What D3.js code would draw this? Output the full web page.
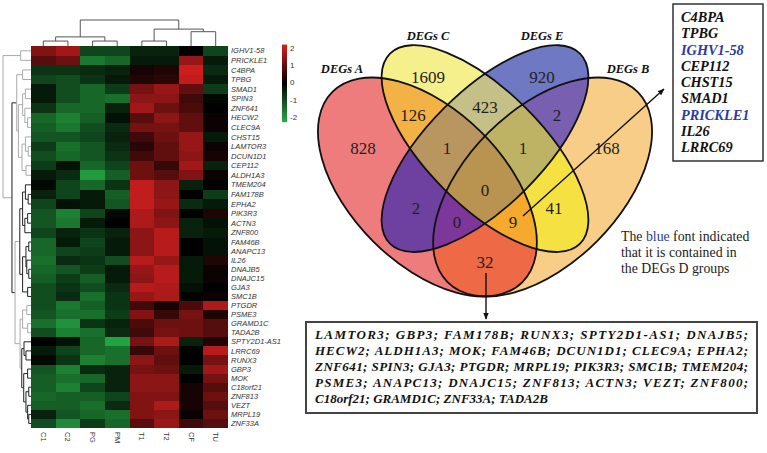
<!DOCTYPE html>
<html lang="en">
<head>
<meta charset="utf-8">
<title>DEGs heatmap and Venn</title>
<script src="https://d3js.org/d3.v7.min.js"></script>
<style>
  body { margin: 0; background: #fff; }
</style>
</head>
<body>
<script>
var width = 767, height = 453;

// ---- heatmap data ----
var colLabels = ["C1", "C2", "PG", "PM", "T1", "T2", "CF", "TU"];
var rowLabels = ["IGHV1-58", "PRICKLE1", "C4BPA", "TPBG", "SMAD1", "SPIN3", "ZNF641", "HECW2",
  "CLEC9A", "CHST15", "LAMTOR3", "DCUN1D1", "CEP112", "ALDH1A3", "TMEM204", "FAM178B", "EPHA2",
  "PIK3R3", "ACTN3", "ZNF800", "FAM46B", "ANAPC13", "IL26", "DNAJB5", "DNAJC15", "GJA3", "SMC1B",
  "PTGDR", "PSME3", "GRAMD1C", "TADA2B", "SPTY2D1-AS1", "LRRC69", "RUNX3", "GBP3", "MOK",
  "C18orf21", "ZNF813", "VEZT", "MRPL19", "ZNF33A"];
var heatValues = [
  [1.2, 1.5, -0.8, -0.8, -0.4, -0.4, 0.0, -0.8],
  [0.8, 1.0, -1.4, -1.2, -0.3, -0.3, 1.4, -0.3],
  [-0.6, -0.6, -0.5, -0.4, 0.2, 0.3, 1.9, -0.5],
  [-0.8, -0.9, -0.6, -0.3, 0.3, 0.4, 1.8, -0.3],
  [-0.3, -0.9, -1.2, -0.7, 1.1, 1.4, 0.9, -0.7],
  [-0.3, -0.9, -1.2, -1.3, 1.3, 1.3, 0.6, -0.1],
  [-0.6, -1.2, -1.2, -0.4, 1.5, 1.0, 0.7, 0.0],
  [-1.2, -1.5, -1.1, -0.2, 0.8, 1.3, 0.9, 0.1],
  [-1.1, -1.4, -0.9, -0.5, 1.1, 1.1, 0.9, 0.1],
  [-1.0, -1.0, -0.8, -0.4, 0.6, 1.0, 1.4, -0.3],
  [-0.7, -1.3, -1.0, -0.5, 0.4, 0.9, 1.4, 0.1],
  [-0.9, -1.2, -1.0, -0.6, 0.6, 0.9, 1.3, 0.2],
  [-0.7, -0.2, -1.2, -0.8, 1.0, 0.5, 1.5, -0.4],
  [-0.3, -0.5, -1.8, -1.1, 1.0, 0.8, 1.2, 0.1],
  [-0.1, -0.8, -1.2, -0.6, 1.8, 1.3, -0.4, 0.0],
  [-0.4, -0.8, -0.3, -1.1, 1.8, 1.3, 0.0, -0.7],
  [-0.8, -0.2, -0.3, -1.0, 1.8, 1.4, -0.5, -0.3],
  [-1.0, -1.5, -0.8, -0.1, 1.6, 1.2, 0.0, 0.3],
  [-1.0, -1.4, -0.3, 0.0, 1.6, 1.3, -0.4, -0.2],
  [-0.8, -0.4, -0.6, -0.4, 1.3, 1.7, -0.4, -0.3],
  [-1.2, -0.3, -0.8, -0.3, 1.3, 1.7, 0.0, -0.2],
  [-1.2, -0.8, -0.7, -0.3, 1.3, 1.7, 0.0, -0.2],
  [-1.3, -0.5, -0.6, -0.9, 1.7, 1.4, -0.3, 0.3],
  [-1.2, -1.0, -0.7, -0.3, 1.4, 1.7, -0.3, 0.1],
  [-1.1, -0.7, -1.1, -0.3, 1.3, 1.7, -0.3, 0.1],
  [-0.9, -0.6, -0.9, -0.5, 1.7, 1.6, -0.2, 0.0],
  [-0.9, -0.5, -1.3, -0.6, 1.4, 1.6, 0.0, 0.1],
  [-0.9, -1.4, -1.1, -0.6, 0.6, 0.2, 0.7, 1.6],
  [-1.0, -1.3, -1.3, -0.7, 1.2, 0.5, 1.1, 0.3],
  [-1.3, -1.7, -0.6, -0.4, 0.7, 1.0, 1.0, 0.8],
  [-0.9, -1.5, -1.3, -0.5, 0.6, 1.1, 1.0, 0.8],
  [0.0, -0.2, -1.2, -1.9, 1.1, 1.6, -0.4, 0.3],
  [-0.3, -0.8, -1.2, -1.3, 0.5, 1.0, 0.0, 1.7],
  [-0.1, -0.6, -1.5, -1.3, 1.3, 0.9, 0.0, 1.1],
  [-1.0, -1.5, -0.5, -0.4, 1.1, 1.0, -0.3, 1.5],
  [-1.1, -1.3, -1.2, -0.4, 1.3, 1.3, 0.0, 1.1],
  [-1.1, -1.5, -0.8, -0.4, 1.3, 1.3, 0.2, 0.8],
  [-1.2, -1.1, -1.1, -0.8, 1.2, 1.2, 0.2, 1.0],
  [-1.1, -1.1, -1.3, -0.5, 1.2, 1.6, 0.2, 0.8],
  [-0.4, -1.0, -1.2, -1.3, 1.2, 1.3, 0.1, 1.0],
  [-0.9, -1.6, -0.7, -1.2, 0.8, 1.4, 0.6, 0.8]
];
var legendTicks = [2, 1, 0, -1, -2];

// dendrograms: [height, child, child], leaves are indices
var colTree = [1.0, [0.35, [0.19, 0, 1], [0.19, 2, 3]], [0.65, [0.19, 4, 5], [0.55, 6, 7]]];
var rowTree = [1.0,
  [0.37, 0, 1],
  [0.68,
    [0.51, [0.3, 2, 3],
      [0.45, [0.3, [0.2, 4, 5], [0.22, 6, [0.12, 7, 8]]],
             [0.32, [0.2, 9, [0.1, 10, 11]], [0.18, 12, 13]]]],
    [0.57,
      [0.4, [0.3, [0.2, 14, [0.1, 15, 16]], [0.22, [0.12, 17, 18], 19]],
            [0.3, [0.18, [0.08, 20, 21], [0.15, 22, [0.08, 23, 24]]], [0.12, 25, 26]]],
      [0.39, [0.3, [0.15, 27, 28], [0.12, 29, 30]],
             [0.33, [0.25, 31, [0.18, 32, 33]],
                    [0.26, [0.12, 34, 35], [0.18, [0.08, 36, 37], [0.12, 38, [0.08, 39, 40]]]]]]]]];

// ---- venn data ----
var setKeys = ["A", "C", "E", "B"];
var setNames = ["DEGs A", "DEGs C", "DEGs E", "DEGs B"];
var regionCodes = ["A", "C", "E", "B", "AC", "CE", "EB", "ACE", "CEB", "ACEB", "AE", "AEB", "ACB", "CB", "AB"];
var regionCounts = [828, 1609, 920, 168, 126, 423, 2, 1, 1, 0, 2, 0, 9, 41, 32];
var boxGenes = ["C4BPA", "TPBG", "IGHV1-58", "CEP112", "CHST15", "SMAD1", "PRICKLE1", "IL26", "LRRC69"];
var genesInD = ["IGHV1-58", "PRICKLE1"];
var listLines = [
  "LAMTOR3; GBP3; FAM178B; RUNX3; SPTY2D1-AS1; DNAJB5;",
  "HECW2; ALDH1A3; MOK; FAM46B; DCUN1D1; CLEC9A; EPHA2;",
  "ZNF641; SPIN3; GJA3; PTGDR; MRPL19; PIK3R3; SMC1B; TMEM204;",
  "PSME3; ANAPC13; DNAJC15; ZNF813; ACTN3; VEZT; ZNF800;",
  "C18orf21; GRAMD1C; ZNF33A; TADA2B"
];

// ---- layout / style ----
var hm = {left: 31, right: 228, top: 46, mid: 237.5, bottom: 428};
var sans = "'Liberation Sans', Arial, sans-serif";
var serif = "'Liberation Serif', 'Times New Roman', serif";
var blue = "#2b3a9f";

var svg = d3.select("body").append("svg")
  .attr("width", width).attr("height", height);

var x = d3.scaleBand().domain(d3.range(colLabels.length)).range([hm.left, hm.right]);
// rows in the source image are a little taller in the upper half
var yEdge = d3.scaleLinear().domain([0, 20, rowLabels.length]).range([hm.top, hm.mid, hm.bottom]);
function rowMid(i) { return (yEdge(i) + yEdge(i + 1)) / 2; }
var color = d3.scaleLinear().domain([-2, 0, 2])
  .range(["#26ac45", "#000000", "#d82020"]).clamp(true);

// cells
var cells = [];
heatValues.forEach(function(row, i) {
  row.forEach(function(v, j) { cells.push({r: i, c: j, v: v}); });
});
svg.append("g").selectAll("rect")
  .data(cells)
  .enter().append("rect")
  .attr("x", function(d) { return x(d.c); })
  .attr("y", function(d) { return yEdge(d.r); })
  .attr("width", x.bandwidth() + 0.3)
  .attr("height", function(d) { return yEdge(d.r + 1) - yEdge(d.r) + 0.3; })
  .attr("fill", function(d) { return color(d.v); })
  .attr("shape-rendering", "crispEdges");

// row labels
svg.append("g").selectAll("text")
  .data(rowLabels)
  .enter().append("text")
  .attr("x", hm.right + 3)
  .attr("y", function(d, i) { return rowMid(i); })
  .attr("dy", "0.35em")
  .attr("font-family", sans).attr("font-style", "italic")
  .attr("font-size", "7.5px").attr("fill", "#333")
  .text(function(d) { return d; });

// column labels
svg.append("g").selectAll("text")
  .data(colLabels)
  .enter().append("text")
  .attr("transform", function(d, i) {
    return "translate(" + (x(i) + x.bandwidth() / 2 - 2.5) + "," + (hm.bottom + 4) + ") rotate(90)";
  })
  .attr("font-family", sans).attr("font-size", "7.5px").attr("fill", "#333")
  .text(function(d) { return d; });

// dendrograms
function drawTree(tree, leafPos, hScale, vertical, strokeFn) {
  var root = d3.hierarchy(tree, function(d) { return Array.isArray(d) ? d.slice(1) : null; });
  root.eachAfter(function(n) {
    if (!n.children) { n.h = 0; n.p = leafPos(n.data); n.lo = n.hi = n.data; }
    else {
      n.h = n.data[0];
      n.p = (n.children[0].p + n.children[1].p) / 2;
      n.lo = n.children[0].lo; n.hi = n.children[1].hi;
    }
  });
  var segs = [];
  root.each(function(n) {
    if (!n.children) return;
    var s = strokeFn(n);
    var hp = hScale(n.h);
    segs.push({a: [hp, n.children[0].p], b: [hp, n.children[1].p], s: s});
    n.children.forEach(function(c) {
      segs.push({a: [hp, c.p], b: [hScale(c.h), c.p], s: s});
    });
  });
  svg.append("g").selectAll("line")
    .data(segs)
    .enter().append("line")
    .attr(vertical ? "y1" : "x1", function(d) { return d.a[0]; })
    .attr(vertical ? "x1" : "y1", function(d) { return d.a[1]; })
    .attr(vertical ? "y2" : "x2", function(d) { return d.b[0]; })
    .attr(vertical ? "x2" : "y2", function(d) { return d.b[1]; })
    .attr("stroke", function(d) { return d.s; })
    .attr("stroke-width", 1);
}
drawTree(colTree, function(i) { return x(i) + x.bandwidth() / 2; },
  d3.scaleLinear().domain([0, 1]).range([hm.top, 20]), true,
  function() { return "#555"; });
drawTree(rowTree, rowMid,
  d3.scaleLinear().domain([0, 1]).range([hm.left, 3]), false,
  function(n) {
    var dark = (n.lo === 2 && n.hi === 40) || (n.lo >= 14 && n.hi <= 26) || n.lo >= 31;
    return dark ? "#222" : "#aaa";
  });

// colour key
var ly = d3.scaleLinear().domain([2, -2]).range([48, 117]);
var grad = svg.append("defs").append("linearGradient")
  .attr("id", "keygrad").attr("x1", 0).attr("x2", 0).attr("y1", 0).attr("y2", 1);
[2.2, 0, -2.3].forEach(function(v, i) {
  grad.append("stop").attr("offset", i / 2).attr("stop-color", color(v));
});
svg.append("rect").attr("x", 282).attr("y", ly(2.2)).attr("width", 5)
  .attr("height", ly(-2.3) - ly(2.2)).attr("fill", "url(#keygrad)");
svg.append("g").selectAll("text")
  .data(legendTicks)
  .enter().append("text")
  .attr("x", 290).attr("y", function(d) { return ly(d); }).attr("dy", "0.35em")
  .attr("font-family", sans).attr("font-size", "8px").attr("fill", "#333")
  .text(function(d) { return d; });

// ---- venn ----
var vcx = 485, vcy = 187, vs = 384;
var ellipses = {
  A: {cx: vcx - 0.15 * vs, cy: vcy, rx: 0.35 * vs, ry: 0.20 * vs, rot: 45},
  C: {cx: vcx, cy: vcy - 0.1 * vs, rx: 0.35 * vs, ry: 0.15 * vs, rot: 45},
  E: {cx: vcx, cy: vcy - 0.1 * vs, rx: 0.35 * vs, ry: 0.15 * vs, rot: -45},
  B: {cx: vcx + 0.15 * vs, cy: vcy, rx: 0.35 * vs, ry: 0.20 * vs, rot: -45}
};
var regionColors = {
  A: "#ee7c7c", C: "#f5f08c", E: "#6e78c3", B: "#f8cd87",
  AC: "#f3b246", CE: "#c4c087", EB: "#785faf", ACE: "#b9965f", CEB: "#beb264",
  ACEB: "#b99450", AE: "#6e41a0", AEB: "#7d379b", ACB: "#f5aa2d", CB: "#f5e141", AB: "#ee6946"
};
var regionXY = {
  A: [363, 148], C: [428, 77], E: [542, 77], B: [607, 148], AC: [413, 115], CE: [485, 107],
  EB: [557, 115], ACE: [447, 148], CEB: [523, 148], ACEB: [485, 190], AE: [416, 208],
  AEB: [457, 222], ACB: [513, 222], CB: [554, 208], AB: [485, 262]
};
var setXY = [[342, 69], [428, 36], [542, 36], [628, 69]];

function placeEllipse(sel, e) {
  return sel.attr("cx", 0).attr("cy", 0).attr("rx", e.rx).attr("ry", e.ry)
    .attr("transform", "translate(" + e.cx + "," + e.cy + ") rotate(" + e.rot + ")");
}

var defs = svg.append("defs");
setKeys.forEach(function(k) {
  placeEllipse(defs.append("clipPath").attr("id", "clip" + k).append("ellipse"), ellipses[k]);
});
var venn = svg.append("g");
regionCodes.forEach(function(code) {
  var inc = code.split("");
  var exc = setKeys.filter(function(k) { return inc.indexOf(k) < 0; });
  var mask = defs.append("mask").attr("id", "mask" + code)
    .attr("maskUnits", "userSpaceOnUse")
    .attr("x", 0).attr("y", 0).attr("width", width).attr("height", height);
  mask.append("rect").attr("width", width).attr("height", height).attr("fill", "#fff");
  exc.forEach(function(k) {
    placeEllipse(mask.append("ellipse"), ellipses[k]).attr("fill", "#000");
  });
  var g = venn;
  inc.forEach(function(k) { g = g.append("g").attr("clip-path", "url(#clip" + k + ")"); });
  g.append("rect").attr("x", 300).attr("y", 20).attr("width", 370).attr("height", 300)
    .attr("fill", regionColors[code]).attr("mask", "url(#mask" + code + ")");
});
setKeys.forEach(function(k) {
  placeEllipse(venn.append("ellipse"), ellipses[k])
    .attr("fill", "none").attr("stroke", "#111").attr("stroke-width", 1.8);
});

venn.append("g").selectAll("text")
  .data(regionCodes)
  .enter().append("text")
  .attr("x", function(d) { return regionXY[d][0]; })
  .attr("y", function(d) { return regionXY[d][1]; })
  .attr("dy", "0.35em").attr("text-anchor", "middle")
  .attr("font-family", serif).attr("font-size", "17px").attr("fill", "#231f20")
  .text(function(d, i) { return regionCounts[i]; });

venn.append("g").selectAll("text")
  .data(setNames)
  .enter().append("text")
  .attr("x", function(d, i) { return setXY[i][0]; })
  .attr("y", function(d, i) { return setXY[i][1]; })
  .attr("dy", "0.35em").attr("text-anchor", "middle")
  .attr("font-family", serif).attr("font-weight", "bold").attr("font-style", "italic")
  .attr("font-size", "12.5px").attr("fill", "#111")
  .text(function(d) { return d; });

// arrows
defs.append("marker").attr("id", "arrow")
  .attr("viewBox", "0 0 10 10").attr("refX", 9).attr("refY", 5)
  .attr("markerWidth", 7).attr("markerHeight", 7).attr("orient", "auto")
  .attr("markerUnits", "userSpaceOnUse")
  .append("path").attr("d", "M0,1 L10,5 L0,9 Z").attr("fill", "#111");
svg.append("line").attr("x1", 523).attr("y1", 216).attr("x2", 664).attr("y2", 89)
  .attr("stroke", "#111").attr("stroke-width", 1.4).attr("marker-end", "url(#arrow)");
svg.append("line").attr("x1", 486).attr("y1", 273).attr("x2", 486).attr("y2", 319)
  .attr("stroke", "#111").attr("stroke-width", 1.4).attr("marker-end", "url(#arrow)");

// gene box (top right)
svg.append("rect").attr("x", 673).attr("y", 4).attr("width", 90).attr("height", 157)
  .attr("fill", "#fff").attr("stroke", "#333").attr("stroke-width", 1.5);
svg.append("g").selectAll("text")
  .data(boxGenes)
  .enter().append("text")
  .attr("x", 681).attr("y", function(d, i) { return 22 + i * 16.25; })
  .attr("font-family", serif).attr("font-weight", "bold").attr("font-style", "italic")
  .attr("font-size", "14.3px")
  .attr("fill", function(d) { return genesInD.indexOf(d) >= 0 ? blue : "#111"; })
  .text(function(d) { return d; });

// note
var note = svg.append("text").attr("font-family", serif).attr("font-size", "13.8px").attr("fill", "#222");
var n1 = note.append("tspan").attr("x", 621).attr("y", 241);
n1.append("tspan").text("The ");
n1.append("tspan").attr("fill", blue).text("blue");
n1.append("tspan").text(" font indicated");
note.append("tspan").attr("x", 621).attr("y", 257).text("that it is contained in");
note.append("tspan").attr("x", 621).attr("y", 273).text("the DEGs D groups");

// gene list box (bottom); full lines are justified by spreading the letters
svg.append("rect").attr("x", 306).attr("y", 322).attr("width", 451).attr("height", 91)
  .attr("fill", "#fff").attr("stroke", "#444").attr("stroke-width", 2);
var listX = 315, listW = 433;
svg.append("g").selectAll("text")
  .data(listLines)
  .enter().append("text")
  .attr("x", listX)
  .attr("y", function(d, i) { return 338.5 + i * 16.2; })
  .attr("font-family", serif).attr("font-weight", "bold").attr("font-style", "italic")
  .attr("font-size", "13px").attr("fill", "#111")
  .attr("xml:space", "preserve")
  .text(function(d) { return d; })
  .each(function(d, i) {
    if (i < listLines.length - 1) {
      d3.select(this).attr("textLength", listW).attr("lengthAdjust", "spacing");
    }
  });
</script>
</body>
</html>
